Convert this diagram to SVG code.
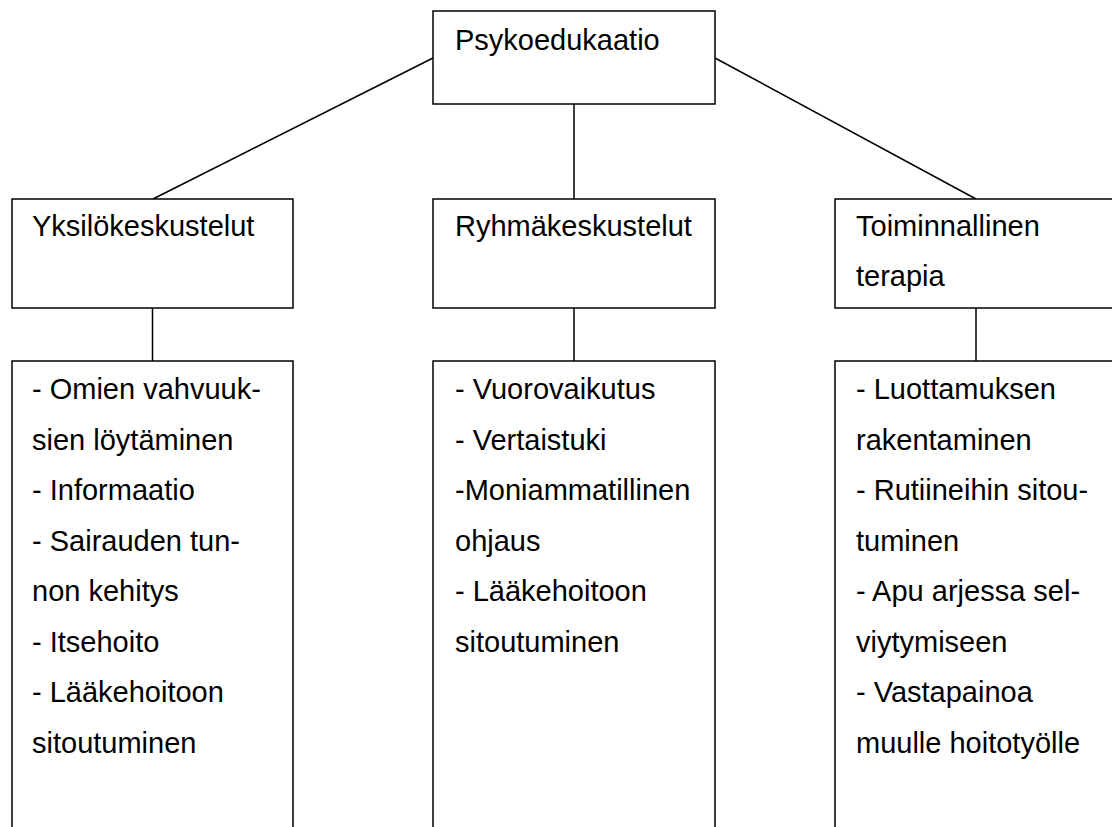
<svg xmlns="http://www.w3.org/2000/svg" width="1112" height="827" viewBox="0 0 1112 827">
<style>
.box{fill:#fff;stroke:#000;stroke-width:1.5}
.ln{fill:none;stroke:#000;stroke-width:1.5}
text{font-family:"Liberation Sans",Arial,sans-serif;font-size:29px;fill:#000}
</style>
<rect width="1112" height="827" fill="#fff"/>
<g id="connectors">
<line class="ln" x1="433" y1="58" x2="153" y2="199"/>
<line class="ln" x1="574" y1="104" x2="574" y2="199"/>
<line class="ln" x1="715" y1="58" x2="976" y2="199"/>
<line class="ln" x1="152.5" y1="308" x2="152.5" y2="361"/>
<line class="ln" x1="574" y1="308" x2="574" y2="361"/>
<line class="ln" x1="976" y1="308" x2="976" y2="361"/>
</g>
<g id="psykoedukaatio">
<rect class="box" x="433" y="11" width="282" height="93"/>
<text x="455" y="50">Psykoedukaatio</text>
</g>
<g id="yksilokeskustelut">
<rect class="box" x="12" y="199" width="281" height="109"/>
<text x="32" y="236">Yksilökeskustelut</text>
</g>
<g id="ryhmakeskustelut">
<rect class="box" x="433" y="199" width="282" height="109"/>
<text x="455" y="236">Ryhmäkeskustelut</text>
</g>
<g id="toiminnallinen">
<rect class="box" x="835" y="199" width="300" height="109"/>
<text x="856" y="236">Toiminnallinen</text>
<text x="856" y="286">terapia</text>
</g>
<g id="yksilo-list">
<path class="ln" d="M12,830 V361 H293 V830"/>
<text x="32" y="399">- Omien vahvuuk-</text>
<text x="32" y="449.5">sien löytäminen</text>
<text x="32" y="500">- Informaatio</text>
<text x="32" y="550.5">- Sairauden tun-</text>
<text x="32" y="601">non kehitys</text>
<text x="32" y="651.5">- Itsehoito</text>
<text x="32" y="702">- Lääkehoitoon</text>
<text x="32" y="752.5">sitoutuminen</text>
</g>
<g id="ryhma-list">
<path class="ln" d="M433,830 V361 H715 V830"/>
<text x="455" y="399">- Vuorovaikutus</text>
<text x="455" y="449.5">- Vertaistuki</text>
<text x="455" y="500">-Moniammatillinen</text>
<text x="455" y="550.5">ohjaus</text>
<text x="455" y="601">- Lääkehoitoon</text>
<text x="455" y="651.5">sitoutuminen</text>
</g>
<g id="toiminnallinen-list">
<path class="ln" d="M835,830 V361 H1120"/>
<text x="856" y="399">- Luottamuksen</text>
<text x="856" y="449.5">rakentaminen</text>
<text x="856" y="500">- Rutiineihin sitou-</text>
<text x="856" y="550.5">tuminen</text>
<text x="856" y="601">- Apu arjessa sel-</text>
<text x="856" y="651.5">viytymiseen</text>
<text x="856" y="702">- Vastapainoa</text>
<text x="856" y="752.5">muulle hoitotyölle</text>
</g>
</svg>
